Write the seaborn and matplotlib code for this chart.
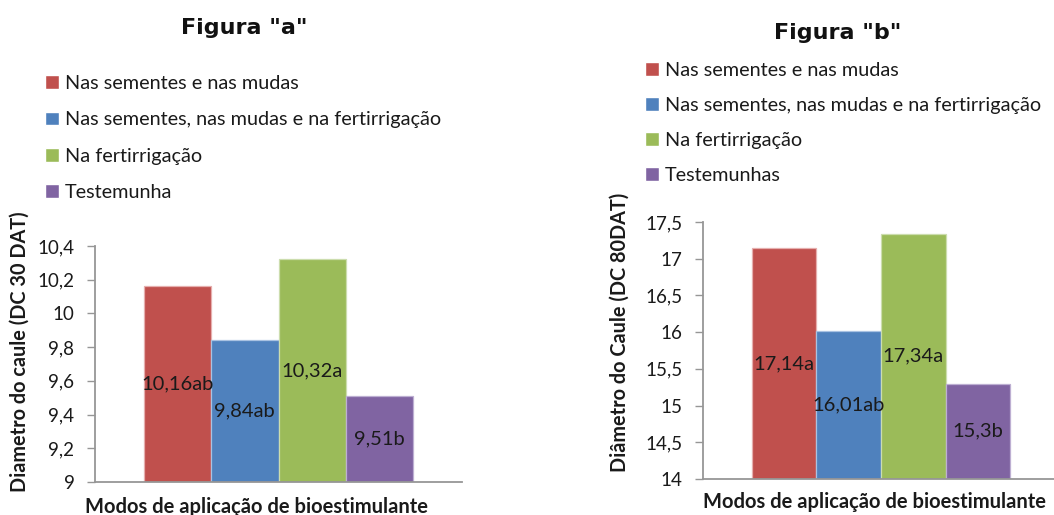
import matplotlib
matplotlib.use("Agg")
import matplotlib.pyplot as plt
import seaborn as sns
import pandas as pd
from matplotlib.ticker import FuncFormatter, MultipleLocator

# ---------------- data ----------------
series_a = ["Nas sementes e nas mudas", "Nas sementes, nas mudas e na fertirrigação",
            "Na fertirrigação", "Testemunha"]
values_a = [10.16, 9.84, 10.32, 9.51]
letters_a = ["ab", "ab", "a", "b"]

series_b = ["Nas sementes e nas mudas", "Nas sementes, nas mudas e na fertirrigação",
            "Na fertirrigação", "Testemunhas"]
values_b = [17.14, 16.01, 17.34, 15.3]
letters_b = ["a", "ab", "a", "b"]

category = "Modos de aplicação de bioestimulante"
colors = ["#C0504D", "#4F81BD", "#9BBB59", "#8064A2"]
edge_colors = ["#E6AFAE", "#A9C2E2", "#CCDDAE", "#BDAFD2"]

title_a, title_b = 'Figura "a"', 'Figura "b"'
ylabel_a = "Diametro do caule (DC 30 DAT)"
ylabel_b = "Diâmetro do Caule (DC 80DAT)"
ylim_a, ystep_a = (9, 10.4), 0.2
ylim_b, ystep_b = (14, 17.5), 0.5

# ---------------- style ----------------
sns.set_style("white")
plt.rcParams["font.family"] = ["Lato", "DejaVu Sans"]

W, H = 1054, 515
fig = plt.figure(figsize=(W / 100, H / 100), dpi=100)

AXIS_COLOR = "#969696"
TXT = "#1a1a1a"


def fmt(v, pos=None):
    return ("%g" % round(v, 2)).replace(".", ",")


def panel(rect, series, values, letters, ylim, ystep, ylabel, width,
          xlab_pos, ylab_pos):
    ax = fig.add_axes(rect)
    df = pd.DataFrame({"cat": [category] * len(series), "serie": series, "valor": values})
    sns.barplot(data=df, x="cat", y="valor", hue="serie", hue_order=series,
                palette=colors, width=width, ax=ax, saturation=1, legend=True)
    for cont, ec in zip(ax.containers, edge_colors):
        for p in cont:
            p.set_edgecolor(ec)
            p.set_linewidth(0.9)
    ax.set_ylim(*ylim)
    ax.yaxis.set_major_locator(MultipleLocator(ystep))
    ax.yaxis.set_major_formatter(FuncFormatter(fmt))
    ax.set_xticks([])
    for s in ["top", "right"]:
        ax.spines[s].set_visible(False)
    for s in ["left", "bottom"]:
        ax.spines[s].set_color(AXIS_COLOR)
        ax.spines[s].set_linewidth(1.3)
    ax.tick_params(axis="y", left=True, length=5.8, width=1, color=AXIS_COLOR,
                   labelsize=13.5, pad=9, labelcolor=TXT)
    ax.set_xlabel(category, fontsize=14.5, fontweight="bold", color=TXT)
    ax.xaxis.label.set_va("center")
    ax.xaxis.set_label_coords(*xlab_pos)
    ax.set_ylabel(ylabel, fontsize=14.3, fontweight="bold", color=TXT)
    ax.yaxis.label.set_va("center")
    ax.yaxis.set_label_coords(*ylab_pos)
    # labels in the middle of the visible bar
    for cont, v, l in zip(ax.containers, values, letters):
        for p in cont:
            cx = p.get_x() + p.get_width() / 2
            cy = (ylim[0] + p.get_height()) / 2
            ax.text(cx, cy, fmt(v) + l, ha="center", va="center",
                    fontsize=14.5, color=TXT)
    handles, labels = ax.get_legend_handles_labels()
    ax.get_legend().remove()
    return ax, handles, labels


# left panel
axa, ha, la = panel([95 / W, 1 - 482 / H, 367 / W, 236 / H], series_a, values_a, letters_a,
                    ylim_a, ystep_a, ylabel_a, 0.733, (0.439, -0.106), (-0.204, 0.551))
# right panel
axb, hb, lb = panel([703 / W, 1 - 479 / H, 356 / W, 257 / H], series_b, values_b, letters_b,
                    ylim_b, ystep_b, ylabel_b, 0.725, (0.483, -0.0895), (-0.233, 0.572))

fig.text(244 / W, 1 - 28 / H, title_a, ha="center", va="center", fontsize=16,
         fontweight="bold", family="DejaVu Sans", color="#111111")
fig.text(838 / W, 1 - 33 / H, title_b, ha="center", va="center", fontsize=16,
         fontweight="bold", family="DejaVu Sans", color="#111111")

leg_kw = dict(loc="upper left", frameon=False, fontsize=14.3, handlelength=0.7,
              handleheight=0.7, handletextpad=0.3, borderpad=0, borderaxespad=0,
              labelcolor=TXT)
fig.legend(ha, la, bbox_to_anchor=(45 / W, 1 - 75 / H), labelspacing=0.98, **leg_kw)
fig.legend(hb, lb, bbox_to_anchor=(645 / W, 1 - 62 / H), labelspacing=0.9, **leg_kw)

fig.savefig("out.png", dpi=100)
